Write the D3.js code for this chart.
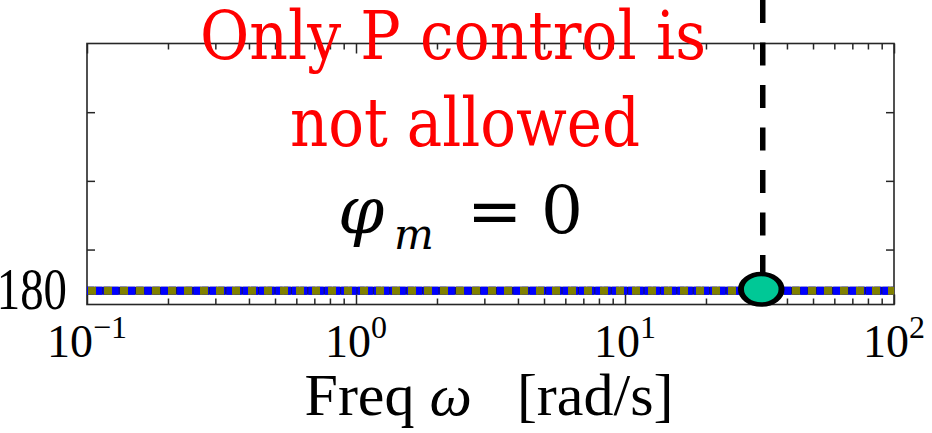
<!DOCTYPE html>
<html><head><meta charset="utf-8">
<script src="https://cdn.jsdelivr.net/npm/d3@7"></script>
<style>
html,body{margin:0;padding:0;background:#fff;}
svg{display:block;}
</style></head><body>
<svg id="chart" width="932" height="433"></svg>
<script>
// Phase of the open loop, in degrees, over frequency (rad/s)
const freq = [0.1, 1, 10, 100];
const phaseBlue = [-180, -180, -180, -180];
const phaseOlive = [-180, -180, -180, -180];
// Gain crossover point
const crossFreq = [32.1];
const crossPhase = [-180];
// Axis ticks
const xTickValues = [0.1, 1, 10, 100];
const xTickExponents = ["\u22121", "0", "1", "2"];
const yTickValues = [-180, -150, -100, -50];
const yTickLabels = ["\u2212180", "", "", ""];

const SERIF = "'Liberation Serif'";
const ALT_SERIF = "'DejaVu Serif', 'Liberation Serif', serif";
const W = 932, H = 433;
const m = {left: 87, right: 38, top: 43.5, bottom: 128.5};
const svg = d3.select("#chart");
svg.append("rect").attr("width", W).attr("height", H).attr("fill", "#fff");

const x = d3.scaleLog().domain([0.1, 100]).range([m.left, W - m.right]);
const y = d3.scaleLinear().domain([-190, 0]).range([H - m.bottom, m.top]);

function label(parent, tx, ty, size, sx, family) {
  const t = parent.append("text")
    .attr("x", tx).attr("y", ty)
    .style("font-family", family || SERIF)
    .attr("font-size", size);
  if (sx) t.attr("transform", `translate(${tx},0) scale(${sx},1) translate(${-tx},0)`);
  return t;
}

const axisColor = "#262626";
const minorTicks = x.ticks().filter(v => !xTickValues.some(t => Math.abs(t - v) < 1e-9));

function styleAxis(g) {
  g.select(".domain").remove();
  g.selectAll(".tick line").attr("stroke", axisColor).attr("stroke-width", 1.5);
  g.selectAll(".tick text").remove();
}

// bottom and top x ticks (pointing inward)
[["bottom", H - m.bottom], ["top", m.top]].forEach(([side, ty]) => {
  const mk = side === "bottom" ? d3.axisBottom : d3.axisTop;
  svg.append("g").attr("transform", `translate(0,${ty})`)
    .call(mk(x).tickValues(minorTicks).tickSize(-6)).call(styleAxis);
  svg.append("g").attr("transform", `translate(0,${ty})`)
    .call(mk(x).tickValues(xTickValues).tickSize(-10)).call(styleAxis);
});
// left and right y ticks
svg.append("g").attr("transform", `translate(${m.left},0)`)
  .call(d3.axisLeft(y).tickValues(yTickValues).tickSize(-8)).call(styleAxis);
svg.append("g").attr("transform", `translate(${W - m.right},0)`)
  .call(d3.axisRight(y).tickValues(yTickValues).tickSize(-8)).call(styleAxis);

// axes box
svg.append("rect")
  .attr("x", m.left).attr("y", m.top)
  .attr("width", W - m.left - m.right).attr("height", H - m.top - m.bottom)
  .attr("fill", "none").attr("stroke", axisColor).attr("stroke-width", 1.6);

// x tick labels 10^k
xTickValues.forEach((v, i) => {
  const t = label(svg, x(v), 357, 46).attr("text-anchor", "middle");
  t.append("tspan").text("10");
  t.append("tspan").attr("font-size", 32).attr("dy", -19).text(xTickExponents[i]);
});

// y tick labels
yTickValues.forEach((v, i) => {
  if (!yTickLabels[i]) return;
  label(svg, 67, y(v) + 18.5, 60, 0.78).attr("text-anchor", "end").text(yTickLabels[i]);
});

// x axis title
const xt = label(svg, 489, 415, 60).attr("text-anchor", "middle").style("white-space", "pre");
xt.append("tspan").text("Freq ");
xt.append("tspan").attr("font-style", "italic").text("\u03c9");
xt.append("tspan").text("   [rad/s]");

// phase curves
svg.append("clipPath").attr("id", "plotClip").append("rect")
  .attr("x", m.left).attr("y", m.top)
  .attr("width", W - m.left - m.right).attr("height", H - m.top - m.bottom);
const plot = svg.append("g").attr("clip-path", "url(#plotClip)");
const lineGen = vals => d3.line().x((d, i) => x(freq[i])).y(d => y(d))(vals);

plot.append("path").attr("d", lineGen(phaseBlue))
  .attr("fill", "none").attr("stroke", "#10107a").attr("stroke-width", 8);
plot.append("path").attr("d", lineGen(phaseBlue))
  .attr("fill", "none").attr("stroke", "#0000ff").attr("stroke-width", 8)
  .attr("stroke-dasharray", "7,1.2");
plot.append("path").attr("d", lineGen(phaseOlive))
  .attr("fill", "none").attr("stroke", "#808000").attr("stroke-width", 8)
  .attr("stroke-dasharray", "8,8").attr("stroke-dashoffset", -1);

// crossover: dashed vertical guide and marker
const cx = x(crossFreq[0]), cy = y(crossPhase[0]);
svg.append("line")
  .attr("x1", cx + 1.5).attr("x2", cx + 1.5).attr("y1", 0).attr("y2", cy)
  .attr("stroke", "#000").attr("stroke-width", 5.5)
  .attr("stroke-dasharray", "23,19.5");
svg.append("circle")
  .attr("transform", `translate(${cx},${cy - 1.5}) scale(1.33,1)`)
  .attr("r", 15.25).attr("fill", "#00c896")
  .attr("stroke", "#000").attr("stroke-width", 4.5);

// annotations (widths pinned so the lines keep their span)
label(svg, 453, 59, 68, null, ALT_SERIF).attr("text-anchor", "middle").attr("fill", "#ff0000")
  .attr("textLength", 506).attr("lengthAdjust", "spacingAndGlyphs")
  .text("Only P control is");
label(svg, 465, 146, 68, null, ALT_SERIF).attr("text-anchor", "middle").attr("fill", "#ff0000")
  .attr("textLength", 350).attr("lengthAdjust", "spacingAndGlyphs")
  .text("not allowed");

label(svg, 338, 233, 66, null, ALT_SERIF).attr("font-style", "italic").text("\u03c6");
label(svg, 394, 249, 42, null, ALT_SERIF).attr("font-style", "italic").text("m");
label(svg, 467, 233, 66, null, ALT_SERIF).text("=");
label(svg, 541, 233, 66, null, ALT_SERIF).text("0");
</script>
</body></html>
